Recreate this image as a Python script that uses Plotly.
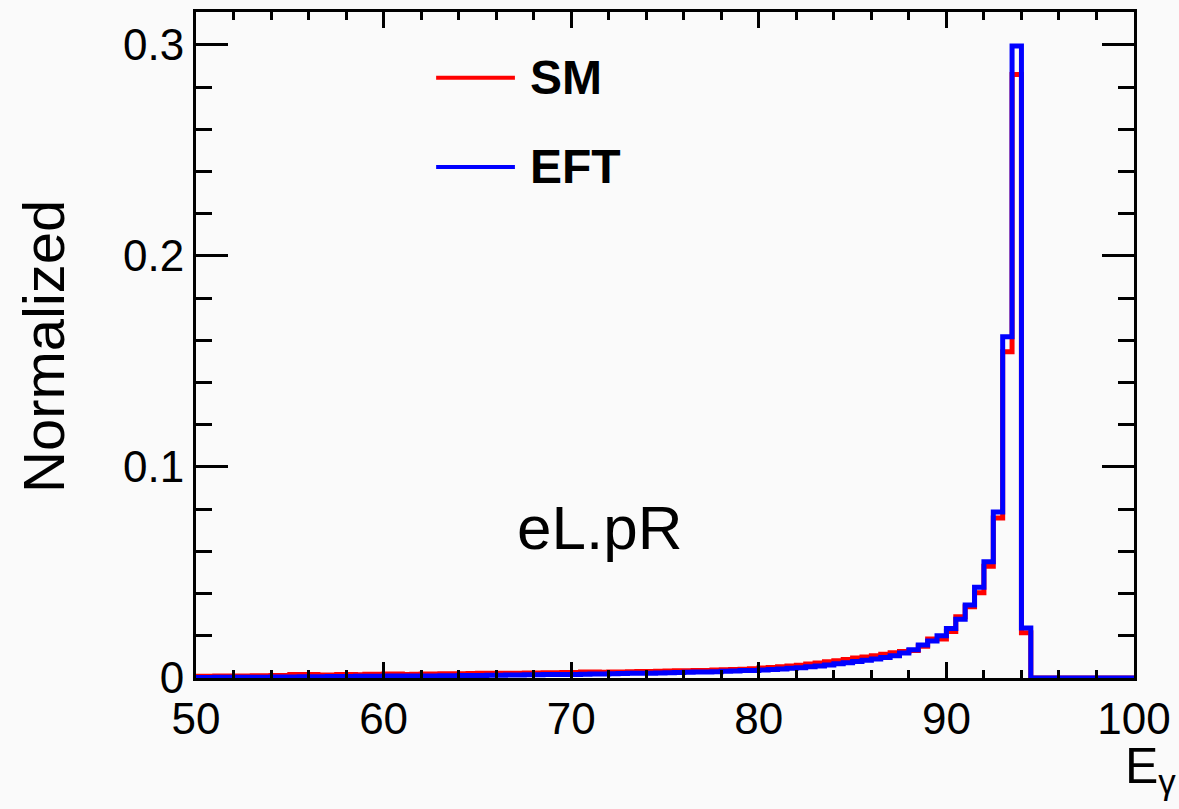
import plotly.graph_objects as go

# Bin edges (0.5 GeV bins from 50 to 100)
bin_edges = [50 + 0.5 * i for i in range(101)]

sm_values = [
    0.0008, 0.0008, 0.0009, 0.0009, 0.0010, 0.0010, 0.0011, 0.0011, 0.0012, 0.0012,
    0.0016, 0.0017, 0.0017, 0.0014, 0.0014, 0.0016, 0.0016, 0.0015, 0.0018, 0.0018,
    0.0019, 0.0019, 0.0016, 0.0018, 0.0019, 0.0019, 0.0020, 0.0020, 0.0020, 0.0021,
    0.0022, 0.0022, 0.0023, 0.0023, 0.0023, 0.0024, 0.0024, 0.0025, 0.0025, 0.0026,
    0.0026, 0.0028, 0.0028, 0.0027, 0.0029, 0.0029, 0.0030, 0.0031, 0.0031, 0.0032,
    0.0033, 0.0034, 0.0034, 0.0035, 0.0036, 0.0038, 0.0039, 0.0040, 0.0042, 0.0044,
    0.0047, 0.0050, 0.0053, 0.0057, 0.0061, 0.0066, 0.0071, 0.0077, 0.0082, 0.0088,
    0.0095, 0.0100, 0.0105, 0.0112, 0.0120, 0.0125, 0.0130, 0.0150, 0.0185, 0.0185,
    0.0220, 0.0290, 0.0338, 0.0404, 0.0530, 0.0758, 0.1546, 0.2860, 0.0215, 0.0,
    0.0, 0.0, 0.0, 0.0, 0.0, 0.0, 0.0, 0.0, 0.0, 0.0,
]

eft_values = [
    0.0002, 0.0002, 0.0003, 0.0003, 0.0003, 0.0004, 0.0004, 0.0004, 0.0005, 0.0005,
    0.0005, 0.0006, 0.0006, 0.0006, 0.0007, 0.0007, 0.0007, 0.0008, 0.0008, 0.0008,
    0.0009, 0.0009, 0.0009, 0.0010, 0.0010, 0.0010, 0.0011, 0.0011, 0.0012, 0.0012,
    0.0012, 0.0013, 0.0013, 0.0014, 0.0014, 0.0015, 0.0015, 0.0016, 0.0016, 0.0017,
    0.0017, 0.0018, 0.0019, 0.0019, 0.0020, 0.0021, 0.0022, 0.0022, 0.0023, 0.0024,
    0.0025, 0.0026, 0.0027, 0.0028, 0.0029, 0.0030, 0.0032, 0.0033, 0.0035, 0.0036,
    0.0038, 0.0040, 0.0043, 0.0046, 0.0049, 0.0053, 0.0057, 0.0062, 0.0067, 0.0072,
    0.0078, 0.0084, 0.0090, 0.0097, 0.0106, 0.0118, 0.0134, 0.0156, 0.0175, 0.0200,
    0.0235, 0.0278, 0.0346, 0.0430, 0.0551, 0.0787, 0.1617, 0.2995, 0.0237, 0.0,
    0.0, 0.0, 0.0, 0.0, 0.0, 0.0, 0.0, 0.0, 0.0, 0.0,
]

series_names = ["SM", "EFT"]
series_colors = ["#ff0000", "#0000ff"]
x_ticks = [50, 60, 70, 80, 90, 100]
y_ticks = [0, 0.1, 0.2, 0.3]
y_tick_text = ["0", "0.1", "0.2", "0.3"]

FONT = "Liberation Sans, Arial, Helvetica, sans-serif"

W, H = 1179, 809
ML, MR, MT, MB = 196, 45, 12, 131
PW, PH = W - ML - MR, H - MT - MB


def px_to_paper(px, py):
    return (px - ML) / PW, (H - MB - py) / PH


fig = go.Figure()
for name, vals, col in zip(series_names, [sm_values, eft_values], series_colors):
    fig.add_trace(go.Scatter(
        x=bin_edges, y=vals + [vals[-1]], mode="lines", name=name,
        line=dict(color=col, width=5, shape="hv"), showlegend=False,
        cliponaxis=False,
    ))

axis_common = dict(
    showline=True, linecolor="black", linewidth=3, mirror="allticks",
    ticks="inside", tickcolor="black", tickwidth=3, showgrid=False, zeroline=False,
    tickfont=dict(family=FONT, size=44, color="black"),
)

fig.update_xaxes(
    range=[50, 100], tickvals=x_ticks, ticklen=16,
    minor=dict(dtick=2, ticklen=8, tickwidth=3, ticks="inside", tickcolor="black", showgrid=False),
    **axis_common,
)
fig.update_yaxes(
    range=[0, 0.3156], tickvals=y_ticks, ticktext=y_tick_text, ticklen=32,
    minor=dict(dtick=0.02, ticklen=16, tickwidth=3, ticks="inside", tickcolor="black", showgrid=False),
    **axis_common,
)

# Legend drawn manually
legend_y = [0.2844, 0.2422]
for name, col, ly in zip(series_names, series_colors, legend_y):
    fig.add_shape(type="line", xref="x", yref="y", x0=62.8, x1=67.0, y0=ly, y1=ly,
                  line=dict(color=col, width=4))
    fig.add_annotation(x=67.7, y=ly, xref="x", yref="y", text=f"<b>{name}</b>",
                       showarrow=False, xanchor="left", yanchor="middle",
                       font=dict(family=FONT, size=48, color="black"))

fig.add_annotation(x=71.5, y=0.0715, xref="x", yref="y", text="eL.pR", showarrow=False,
                   xanchor="center", yanchor="middle",
                   font=dict(family=FONT, size=62, color="black"))

ex, ey = px_to_paper(1150, 769)
fig.add_annotation(x=ex, y=ey, xref="paper", yref="paper", text="E<sub>γ</sub>",
                   showarrow=False, xanchor="center", yanchor="middle",
                   font=dict(family=FONT, size=50, color="black"))
nx, ny = px_to_paper(43, 347)
fig.add_annotation(x=nx, y=ny, xref="paper", yref="paper", text="Normalized",
                   showarrow=False, textangle=-90, xanchor="center", yanchor="middle",
                   font=dict(family=FONT, size=58, color="black"))

fig.update_layout(
    width=W, height=H,
    margin=dict(l=ML, r=MR, t=MT, b=MB, autoexpand=False),
    paper_bgcolor="#fafafa", plot_bgcolor="#fafafa",
    showlegend=False,
)

fig.write_html("out.html")
